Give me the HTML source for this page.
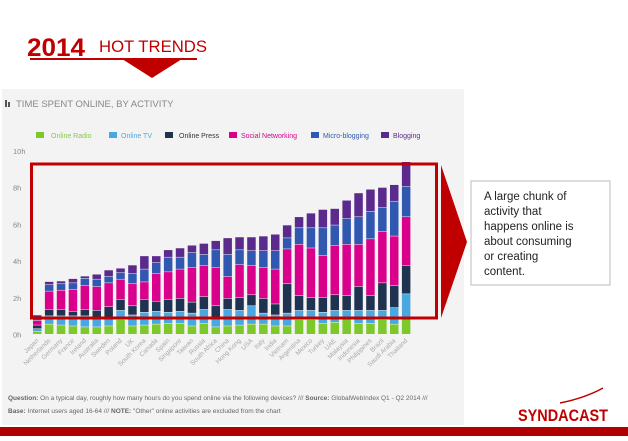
<!DOCTYPE html>
<html><head><meta charset="utf-8"><style>
body{margin:0;width:628px;height:436px;overflow:hidden;background:#fff;font-family:"Liberation Sans",sans-serif}
</style></head><body>
<svg id="s" width="628" height="436" xmlns="http://www.w3.org/2000/svg" font-family="Liberation Sans, sans-serif">
<text x="27" y="56" font-size="25" font-weight="bold" fill="#c00000" font-family="Liberation Sans Narrow, Liberation Sans, sans-serif" textLength="58" lengthAdjust="spacingAndGlyphs">2014</text>
<text x="99" y="52" font-size="17" fill="#c00000" textLength="108" lengthAdjust="spacingAndGlyphs">HOT TRENDS</text>
<rect x="30" y="58" width="167" height="2" fill="#c00000"/>
<polygon points="122,59 182,59 152,78" fill="#c00000"/>
<rect x="2" y="89" width="462" height="336" fill="#f3f3f3"/>
<rect x="5" y="100" width="2" height="7" fill="#555"/><rect x="8" y="102" width="2" height="5" fill="#555"/>
<text x="16" y="107" font-size="9.5" fill="#888">TIME SPENT ONLINE, BY ACTIVITY</text>
<g font-size="7">
<rect x="36" y="132" width="8" height="6" fill="#7dc82b"/><text x="51" y="138" fill="#8cc84b">Online Radio</text>
<rect x="109" y="132" width="8" height="6" fill="#4aa8e0"/><text x="121" y="138" fill="#4aa8e0">Online TV</text>
<rect x="165" y="132" width="8" height="6" fill="#1f3250"/><text x="179" y="138" fill="#333">Online Press</text>
<rect x="229" y="132" width="8" height="6" fill="#d9008c"/><text x="241" y="138" fill="#d9008c">Social Networking</text>
<rect x="311" y="132" width="8" height="6" fill="#3058b0"/><text x="323" y="138" fill="#3058b0">Micro-blogging</text>
<rect x="381" y="132" width="8" height="6" fill="#5a2a8c"/><text x="393" y="138" fill="#5a2a8c">Blogging</text>
</g>
<g id="ax" font-size="7.5" fill="#888"></g>
<g id="bars"></g>
<g id="lbl" font-size="6.5" fill="#aaa"></g>
<rect x="31.5" y="164" width="405" height="154" fill="none" stroke="#c00000" stroke-width="3"/>
<polygon points="441,165 467,242 441,318" fill="#c00000"/>
<rect x="471" y="181" width="139" height="104" fill="#fff" stroke="#bbb" stroke-width="1"/>
<g font-size="11.5" fill="#222">
<text x="484" y="200">A large chunk of</text>
<text x="484" y="215">activity that</text>
<text x="484" y="230">happens online is</text>
<text x="484" y="245">about consuming</text>
<text x="484" y="260">or creating</text>
<text x="484" y="275">content.</text>
</g>
<g font-size="6.5" fill="#666">
<text x="8" y="400"><tspan font-weight="bold">Question:</tspan> On a typical day, roughly how many hours do you spend online via the following devices? /// <tspan font-weight="bold">Source:</tspan> GlobalWebIndex Q1 - Q2 2014 ///</text>
<text x="8" y="413"><tspan font-weight="bold">Base:</tspan> Internet users aged 16-64 /// <tspan font-weight="bold">NOTE:</tspan> "Other" online activities are excluded from the chart</text>
</g>
<text x="518" y="421" font-size="17" font-weight="bold" fill="#c00000" textLength="90" lengthAdjust="spacingAndGlyphs">SYNDACAST</text>
<path d="M560,403 Q585,398 603,388" stroke="#c00000" stroke-width="1.5" fill="none"/>
<rect x="0" y="427" width="628" height="9" fill="#b00000"/>
</svg>
<script>
var d=[["Japan",.15,.15,.2,.25,.15,.15],["Netherlands",.55,.45,.35,1.0,.35,.17],["Germany",.5,.5,.35,1.05,.35,.15],["France",.45,.55,.25,1.2,.35,.23],["Ireland",.4,.6,.35,1.3,.4,.12],["Australia",.4,.5,.4,1.3,.4,.27],["Sweden",.45,.45,.6,1.3,.35,.35],["Poland",.8,.5,.6,1.1,.35,.25],["UK",.45,.6,.5,1.2,.55,.47],["South Korea",.5,.7,.7,.95,.7,.72],["Canada",.55,.7,.55,1.5,.6,.37],["Spain",.6,.6,.7,1.5,.8,.4],["Singapore",.6,.65,.7,1.6,.65,.5],["Taiwan",.45,.7,.6,1.9,.8,.4],["Russia",.6,.75,.7,1.7,.6,.6],["South Africa",.4,.55,.6,2.1,.95,.5],["China",.45,.9,.6,1.2,1.2,.9],["Hong Kong",.5,.8,.7,1.8,.8,.7],["USA",.55,1.0,.6,1.6,.8,.75],["Italy",.55,.6,.8,1.7,.9,.8],["India",.45,.6,.6,1.9,1.0,.9],["Vietnam",.45,.7,1.6,1.9,.6,.7],["Argentina",.8,.5,.8,2.8,.9,.6],["Mexico",.8,.5,.7,2.7,1.1,.8],["Turkey",.6,.6,.8,2.3,1.5,1.0],["UAE",.65,.65,.85,2.7,1.1,.9],["Malaysia",.85,.45,.8,2.8,1.4,1.0],["Indonesia",.6,.7,1.3,2.3,1.5,1.3],["Philippines",.6,.7,.8,3.1,1.5,1.2],["Brazil",.8,.5,1.5,2.8,1.3,1.1],["Saudi Arabia",.55,.9,1.2,2.7,1.9,.9],["Thailand",.9,1.3,1.55,2.65,1.65,1.35]];
var c=["#7dc82b","#4aa8e0","#1f3250","#d9008c","#3058b0","#5a2a8c"];
var NS="http://www.w3.org/2000/svg",y0=334.5,k=18.35;
function el(t,a,p,txt){var e=document.createElementNS(NS,t);for(var i in a)e.setAttribute(i,a[i]);if(txt)e.textContent=txt;document.getElementById(p).appendChild(e);}
for(var h=0;h<=10;h+=2)el("text",{x:13,y:y0-h*k+3},"ax",h+"h");
d.forEach(function(r,i){var x=33+i*11.9,y=y0;
for(var j=1;j<7;j++){var hh=r[j]*k;y-=hh;el("rect",{x:x,y:y,width:8.5,height:hh-0.5,fill:c[j-1]},"bars");}
var cx=x+6;el("text",{x:cx,y:341,"text-anchor":"end",transform:"rotate(-45 "+cx+" 341)"},"lbl",r[0]);});
</script>
</body></html>
